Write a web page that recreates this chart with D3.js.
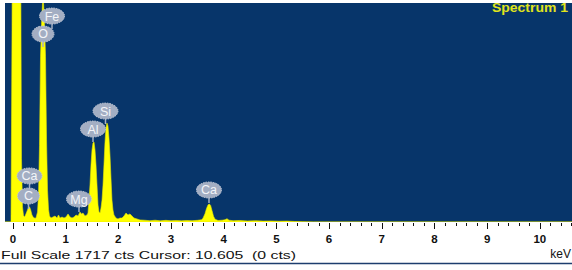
<!DOCTYPE html>
<html>
<head>
<meta charset="utf-8">
<script src="https://cdn.jsdelivr.net/npm/d3@7"></script>
<style>
  html, body { margin: 0; padding: 0; background: #fff; }
  svg { display: block; }
  text { font-family: "Liberation Sans", Arial, sans-serif; }
</style>
</head>
<body>
<div id="chart"></div>
<script>
// Spectrum: energy (keV) and counts
const energy = [
  -0.15, -0.036, -0.017, 0.002, 0.059, 0.116, 0.144, 0.163, 0.182, 0.201, 0.220,
  0.239, 0.268, 0.296, 0.315, 0.334, 0.362, 0.391, 0.419, 0.438, 0.467,
  0.486, 0.505, 0.524, 0.543, 0.562, 0.571, 0.581, 0.600, 0.619, 0.638, 0.657, 0.676, 0.694,
  0.723, 0.761, 0.799, 0.837, 0.865, 0.894, 0.932, 0.970, 1.008, 1.046, 1.084, 1.122,
  1.160, 1.198, 1.236, 1.273, 1.302, 1.330, 1.368, 1.406,
  1.425, 1.444, 1.463, 1.482, 1.501, 1.520, 1.539, 1.558, 1.577, 1.596, 1.615, 1.634, 1.653, 1.672,
  1.691, 1.710, 1.728, 1.747, 1.766, 1.785, 1.804, 1.823, 1.842, 1.861, 1.880, 1.899, 1.918, 1.956,
  1.994, 2.032, 2.070, 2.108, 2.146, 2.184, 2.222, 2.260, 2.298, 2.355, 2.412,
  2.50, 2.60, 2.70, 2.80, 2.90, 3.00, 3.10, 3.20, 3.30, 3.40, 3.50, 3.58,
  3.607, 3.645, 3.674, 3.704, 3.729, 3.752, 3.778, 3.807, 3.836, 3.893, 3.97, 4.025, 4.063, 4.101,
  4.18, 4.30, 4.45, 4.60, 4.75, 4.90, 5.05, 5.20, 5.35, 5.50, 5.70, 10.61
];
const counts = [
  0, 0, 1500, 3500, 5000, 4000, 2500, 500, 120, 50, 40,
  55, 85, 115, 118, 100, 55, 35, 30, 31, 78,
  212, 600, 1300, 1550, 1720, 1760, 1720, 1550, 1300, 650, 250, 100, 47,
  31, 39, 47, 31, 55, 31, 39, 31, 39, 63, 39, 31,
  39, 55, 47, 78, 63, 70, 47, 55,
  70, 172, 290, 447, 565, 620, 627, 565, 447, 290, 133, 78, 70, 110,
  172, 290, 447, 620, 737, 776, 753, 659, 525, 345, 172, 94, 55, 31,
  24, 31, 31, 47, 70, 55, 63, 47, 31, 24, 16,
  14, 10, 14, 9, 13, 10, 12, 9, 12, 10, 13, 18,
  30, 65, 105, 135, 141, 130, 90, 45, 22, 12, 14, 18, 26, 14,
  10, 12, 8, 10, 7, 8, 6, 7, 4, 2, 0, 0
];

// Element markers
const markerNames = ['Fe', 'O', 'Si', 'Al', 'Ca', 'C', 'Mg', 'Ca'];
const markerEnergy = [0.742, 0.571, 1.757, 1.520, 0.315, 0.296, 1.254, 3.721];
const markerLevel = [1615, 1474, 870, 729, 361, 204, 180, 251];

const xTicks = [0, 1, 2, 3, 4, 5, 6, 7, 8, 9, 10];
const fullScale = 1717;

const W = 572, H = 270;
const plot = { left: 5, right: 572, top: 3, bottom: 222 };

const svg = d3.select('#chart').append('svg')
  .attr('width', W).attr('height', H);

const x = d3.scaleLinear().domain([-0.15, 10.61]).range([plot.left, plot.right]);
const y = d3.scaleLinear().domain([0, fullScale]).range([plot.bottom, plot.top]);

svg.append('defs').append('clipPath').attr('id', 'plot-clip')
  .append('rect')
  .attr('x', plot.left).attr('y', plot.top)
  .attr('width', plot.right - plot.left).attr('height', plot.bottom - plot.top);

svg.append('rect')
  .attr('x', plot.left).attr('y', plot.top)
  .attr('width', plot.right - plot.left).attr('height', plot.bottom - plot.top)
  .attr('fill', '#07356a');

const data = energy.map((e, i) => ({ e, c: counts[i] }));

const area = d3.area()
  .x(d => x(d.e))
  .y0(y(0))
  .y1(d => y(d.c));

const g = svg.append('g').attr('clip-path', 'url(#plot-clip)');
g.append('path')
  .datum(data)
  .attr('d', area)
  .attr('fill', '#ffff00')
  .attr('stroke', '#e8e800')
  .attr('stroke-width', 0.6);

// markers: stem then bubble
const markers = markerNames.map((n, i) => ({ n, e: markerEnergy[i], c: markerLevel[i] }));
const mg = g.append('g');
mg.selectAll('line').data(markers).join('line')
  .attr('x1', d => x(d.e)).attr('x2', d => x(d.e))
  .attr('y1', d => y(d.c)).attr('y2', d => y(d.c) + 13)
  .attr('stroke', '#a5b0c4').attr('stroke-width', 1.5);
mg.selectAll('ellipse').data(markers).join('ellipse')
  .attr('cx', d => x(d.e)).attr('cy', d => y(d.c))
  .attr('rx', d => d.n.length > 1 ? 12.5 : 11).attr('ry', 8)
  .attr('fill', '#a3aec3')
  .attr('stroke', '#c3cad8').attr('stroke-width', 1)
  .attr('stroke-dasharray', '1.5,1');
mg.selectAll('text').data(markers).join('text')
  .attr('x', d => x(d.e)).attr('y', d => y(d.c) + 4.5)
  .attr('text-anchor', 'middle')
  .attr('font-size', 12.5)
  .attr('fill', '#f3f5f9')
  .text(d => d.n);

svg.append('text')
  .attr('x', 568).attr('y', 12)
  .attr('text-anchor', 'end')
  .attr('font-size', 12).attr('font-weight', 'bold')
  .attr('fill', '#e0e41c')
  .attr('textLength', 76).attr('lengthAdjust', 'spacingAndGlyphs')
  .text('Spectrum 1');

// ticks hanging under the plot
const minor = d3.range(0, 10.61, 0.2);
svg.append('g').selectAll('line').data(minor).join('line')
  .attr('x1', d => Math.round(x(d)) + 0.5).attr('x2', d => Math.round(x(d)) + 0.5)
  .attr('y1', plot.bottom + 1)
  .attr('y2', d => Math.abs(d - Math.round(d)) < 1e-6 ? plot.bottom + 7 : plot.bottom + 4)
  .attr('stroke', '#111').attr('stroke-width', 1);

svg.append('g').selectAll('text').data(xTicks).join('text')
  .attr('x', d => x(d)).attr('y', 242.5)
  .attr('text-anchor', 'middle')
  .attr('font-size', 11.5).attr('font-weight', 'bold')
  .attr('fill', '#111')
  .text(d => d);

svg.append('text')
  .attr('x', 1).attr('y', 258.5)
  .attr('font-size', 11.5)
  .attr('fill', '#111')
  .attr('textLength', 295).attr('lengthAdjust', 'spacingAndGlyphs')
  .attr('xml:space', 'preserve')
  .text('Full Scale 1717 cts Cursor: 10.605  (0 cts)');

svg.append('text')
  .attr('x', 571).attr('y', 258)
  .attr('text-anchor', 'end')
  .attr('font-size', 12)
  .attr('fill', '#111')
  .text('keV');

svg.append('line')
  .attr('x1', 0).attr('x2', W)
  .attr('y1', 263.5).attr('y2', 263.5)
  .attr('stroke', '#1d3d6e').attr('stroke-width', 1.5);
</script>
</body>
</html>
